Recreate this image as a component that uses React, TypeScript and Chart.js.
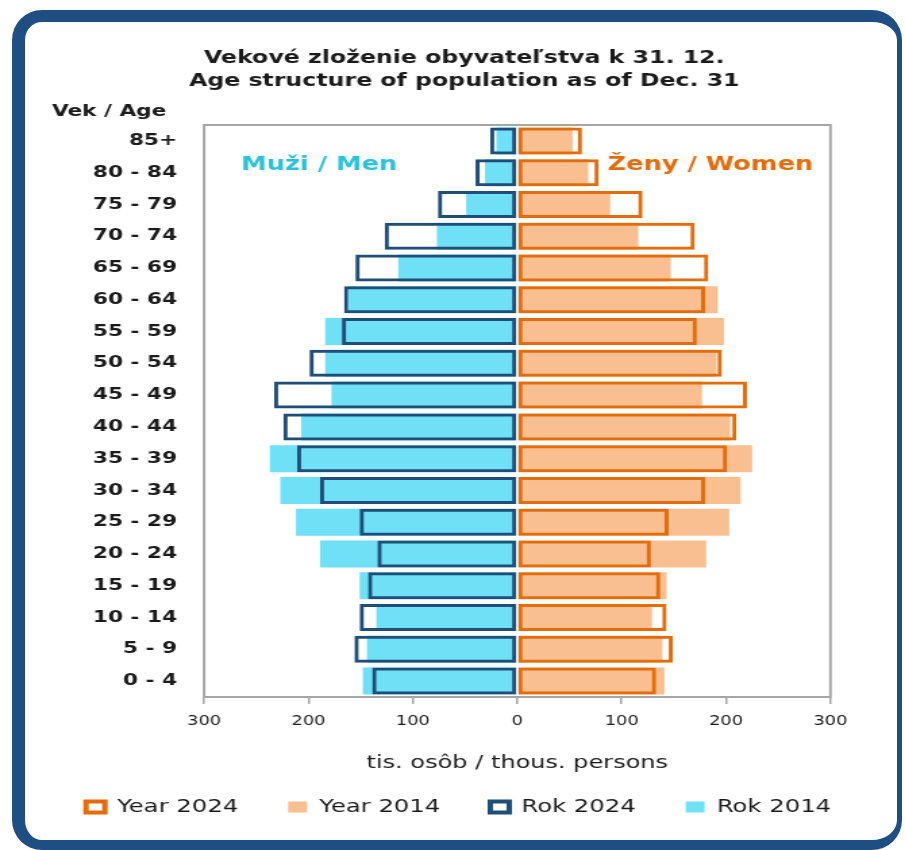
import { useEffect, useRef } from 'react';
import { Chart, registerables } from 'chart.js';

Chart.register(...registerables);

// ---- data (thousands of persons) ----
const ageGroups = [
  '85+', '80 - 84', '75 - 79', '70 - 74', '65 - 69', '60 - 64', '55 - 59', '50 - 54', '45 - 49',
  '40 - 44', '35 - 39', '30 - 34', '25 - 29', '20 - 24', '15 - 19', '10 - 14', '5 - 9', '0 - 4',
];
const men2024 = [26, 40, 76, 127, 155, 166, 168, 199, 233, 224, 211, 189, 151, 134, 143, 151, 156, 139];
const men2014 = [20, 31, 49, 77, 114, 162, 184, 184, 178, 207, 237, 227, 212, 189, 151, 135, 144, 148];
const women2024 = [62, 78, 120, 170, 183, 180, 172, 196, 220, 210, 201, 180, 145, 128, 137, 143, 149, 133];
const women2014 = [53, 68, 89, 116, 147, 192, 198, 191, 177, 204, 225, 214, 203, 181, 143, 129, 139, 141];
const legendLabels = ['Year 2024', 'Year 2014', 'Rok 2024', 'Rok 2014'];
const titleLines = ['Vekové zloženie obyvateľstva k 31. 12.', 'Age structure of population as of Dec. 31'];
const ageAxisTitle = 'Vek / Age';
const valueAxisTitle = 'tis. osôb / thous. persons';
const menLabel = 'Muži / Men';
const womenLabel = 'Ženy / Women';
const xMin = -300;
const xMax = 300;
const xStep = 100;

// ---- style ----
const ORANGE = '#E46C0A';
const LIGHT_ORANGE = '#F9BF90';
const DARK_BLUE = '#1F4E79';
const CYAN = '#6FE0F5';
const MEN_TEXT = '#2BC2DA';
const TEXT = '#1b1b1b';
const FRAME = '#1F4E82';
const GRID = '#A6A6A6';
const FONT = "'DejaVu Sans', sans-serif";
const NARROW = "'Liberation Sans Narrow', 'DejaVu Sans Condensed', 'Liberation Sans', sans-serif";

const PAGE_W = 905;
const PAGE_H = 850;
const SX = 1.35; // horizontal stretch of the reference picture
const LOG_W = Math.round(PAGE_W / SX);
const PAD_LEFT = 9;
const PLOT_LEFT = 151.1;
const PLOT_RIGHT = 614.8;

const textPlugin = {
  id: 'frameAndTexts',
  afterDraw(chart: any) {
    const { ctx, chartArea: a } = chart;
    ctx.save();
    ctx.strokeStyle = GRID;
    ctx.lineWidth = 2;
    ctx.strokeRect(a.left, a.top, a.right - a.left, a.bottom - a.top);

    ctx.fillStyle = TEXT;
    ctx.textBaseline = 'middle';
    ctx.textAlign = 'center';
    ctx.font = `bold 17.5px ${FONT}`;
    ctx.fillText(titleLines[0], 343.7, 58);
    ctx.fillText(titleLines[1], 343.7, 81);

    ctx.textAlign = 'left';
    ctx.font = `bold 16px ${FONT}`;
    ctx.fillText(ageAxisTitle, 38.5, 112);

    ctx.textAlign = 'center';
    ctx.font = `bold 19px ${FONT}`;
    ctx.fillStyle = MEN_TEXT;
    ctx.fillText(menLabel, 236.3, 165);
    ctx.fillStyle = ORANGE;
    ctx.fillText(womenLabel, 525.9, 165);
    ctx.restore();
  },
};

export default function App() {
  const ref = useRef<HTMLCanvasElement | null>(null);

  useEffect(() => {
    if (!ref.current) return;
    const common = { grouped: false, barPercentage: 0.85, categoryPercentage: 1 };
    const chart = new Chart(ref.current, {
      type: 'bar',
      data: {
        labels: ageGroups,
        datasets: [
          {
            label: legendLabels[0],
            data: women2024,
            backgroundColor: 'rgba(255,255,255,0)',
            borderColor: ORANGE,
            borderWidth: 3,
            borderSkipped: false,
            ...common,
          },
          {
            label: legendLabels[1],
            data: women2014,
            backgroundColor: LIGHT_ORANGE,
            borderWidth: 0,
            ...common,
          },
          {
            label: legendLabels[2],
            data: men2024.map((v) => -v),
            backgroundColor: 'rgba(255,255,255,0)',
            borderColor: DARK_BLUE,
            borderWidth: 3,
            borderSkipped: false,
            ...common,
          },
          {
            label: legendLabels[3],
            data: men2014.map((v) => -v),
            backgroundColor: CYAN,
            borderWidth: 0,
            ...common,
          },
        ] as any,
      },
      options: {
        indexAxis: 'y',
        responsive: false,
        animation: false,
        devicePixelRatio: 1,
        layout: { padding: { top: 125, left: PAD_LEFT, right: 0, bottom: 24 } },
        scales: {
          x: {
            min: xMin,
            max: xMax,
            ticks: {
              stepSize: xStep,
              callback: (v: any) => String(Math.abs(Number(v))),
              font: { family: NARROW, size: 14.7 },
              color: TEXT,
              padding: 8,
              maxRotation: 0,
            },
            grid: { drawOnChartArea: false, drawTicks: true, tickLength: 7, color: GRID, lineWidth: 1.5 },
            border: { display: false },
            title: {
              display: true,
              text: valueAxisTitle,
              font: { family: FONT, size: 17.8 },
              color: TEXT,
              padding: { top: 0, bottom: -12.7 },
            },
            afterFit: (s: any) => {
              s.height = 64;
              s.paddingRight = LOG_W - PLOT_RIGHT;
            },
          },
          y: {
            ticks: { font: { family: FONT, size: 16, weight: 'bold' }, color: TEXT, padding: 20 },
            grid: { display: false, drawTicks: false },
            border: { display: false },
            afterFit: (s: any) => {
              s.width = PLOT_LEFT - PAD_LEFT;
            },
          },
        },
        plugins: {
          tooltip: { enabled: false },
          legend: {
            position: 'bottom',
            labels: {
              font: { family: FONT, size: 18 },
              color: TEXT,
              boxWidth: 14,
              boxHeight: 11,
              padding: 37,
              generateLabels: (c: any) =>
                (Chart.defaults.plugins.legend.labels as any).generateLabels(c).map((l: any, i: number) => ({
                  ...l,
                  lineWidth: i % 2 === 0 ? 4 : 0,
                  fillStyle: i % 2 === 0 ? '#ffffff' : l.fillStyle,
                })),
            },
          },
        },
      } as any,
      plugins: [textPlugin],
    });
    return () => chart.destroy();
  }, []);

  return (
    <div style={{ position: 'absolute', left: 0, top: 0, width: PAGE_W, height: PAGE_H, overflow: 'hidden', background: '#fff' }}>
      <div
        style={{
          position: 'absolute',
          left: 12,
          top: 10,
          width: 872,
          height: 818,
          borderStyle: 'solid',
          borderColor: FRAME,
          borderWidth: '12px 5px 10px 13px',
          borderRadius: 30,
        }}
      />
      <canvas
        ref={ref}
        width={LOG_W}
        height={PAGE_H}
        style={{ position: 'absolute', left: 0, top: 0, width: PAGE_W, height: PAGE_H }}
      />
    </div>
  );
}
